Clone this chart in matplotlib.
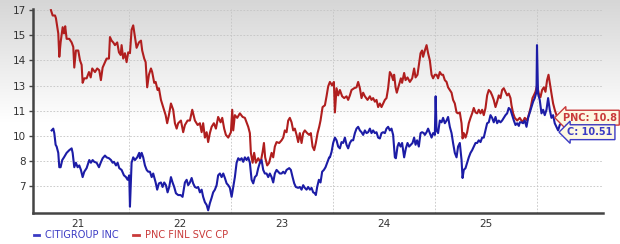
"""Citigroup vs PNC ratio history, redrawn from the reference screenshot."""

import matplotlib
matplotlib.use("Agg")
import matplotlib.pyplot as plt
import numpy as np

# x = decimal year
CITI_T = [
    2020.742, 2020.758, 2020.768, 2020.781, 2020.791, 2020.807, 2020.817, 2020.830, 2020.846, 2020.863,
    2020.889, 2020.915, 2020.938, 2020.948, 2020.964, 2020.980, 2020.997, 2021.013, 2021.029, 2021.046,
    2021.062, 2021.085, 2021.111, 2021.127, 2021.144, 2021.160, 2021.183, 2021.206, 2021.223, 2021.242,
    2021.265, 2021.281, 2021.304, 2021.324, 2021.340, 2021.353, 2021.373, 2021.389, 2021.405, 2021.428,
    2021.451, 2021.471, 2021.487, 2021.503, 2021.510, 2021.526, 2021.542, 2021.559, 2021.581, 2021.601,
    2021.608, 2021.625, 2021.640, 2021.657, 2021.674, 2021.689, 2021.706, 2021.723, 2021.738, 2021.762,
    2021.777, 2021.794, 2021.814, 2021.830, 2021.846, 2021.863, 2021.879, 2021.895, 2021.912, 2021.928,
    2021.944, 2021.961, 2021.983, 2022.007, 2022.026, 2022.049, 2022.066, 2022.081, 2022.098, 2022.115,
    2022.130, 2022.147, 2022.164, 2022.179, 2022.196, 2022.213, 2022.228, 2022.245, 2022.262, 2022.277,
    2022.294, 2022.311, 2022.326, 2022.343, 2022.360, 2022.375, 2022.392, 2022.409, 2022.425, 2022.441,
    2022.458, 2022.474, 2022.490, 2022.507, 2022.523, 2022.539, 2022.556, 2022.572, 2022.588, 2022.605,
    2022.621, 2022.637, 2022.654, 2022.670, 2022.686, 2022.703, 2022.719, 2022.735, 2022.752, 2022.768,
    2022.784, 2022.801, 2022.817, 2022.833, 2022.850, 2022.866, 2022.882, 2022.899, 2022.915, 2022.931,
    2022.948, 2022.964, 2022.980, 2022.997, 2023.013, 2023.029, 2023.046, 2023.072, 2023.088, 2023.105,
    2023.121, 2023.137, 2023.160, 2023.176, 2023.193, 2023.209, 2023.225, 2023.242, 2023.258, 2023.275,
    2023.291, 2023.307, 2023.324, 2023.333, 2023.346, 2023.363, 2023.379, 2023.395, 2023.412, 2023.428,
    2023.444, 2023.464, 2023.471, 2023.487, 2023.503, 2023.520, 2023.536, 2023.552, 2023.569, 2023.585,
    2023.601, 2023.618, 2023.634, 2023.650, 2023.667, 2023.683, 2023.699, 2023.716, 2023.732, 2023.748,
    2023.765, 2023.781, 2023.797, 2023.814, 2023.830, 2023.846, 2023.863, 2023.879, 2023.895, 2023.912,
    2023.928, 2023.944, 2023.961, 2023.977, 2023.993, 2024.010, 2024.026, 2024.042, 2024.059, 2024.075,
    2024.091, 2024.108, 2024.118, 2024.134, 2024.147, 2024.164, 2024.179, 2024.199, 2024.216, 2024.232,
    2024.248, 2024.265, 2024.281, 2024.297, 2024.311, 2024.326, 2024.343, 2024.360, 2024.375, 2024.392,
    2024.402, 2024.419, 2024.434, 2024.451, 2024.468, 2024.483, 2024.500, 2024.508, 2024.517, 2024.532,
    2024.549, 2024.566, 2024.581, 2024.598, 2024.615, 2024.630, 2024.647, 2024.664, 2024.679, 2024.696,
    2024.713, 2024.728, 2024.745, 2024.762, 2024.772, 2024.784, 2024.801, 2024.817, 2024.833, 2024.850,
    2024.866, 2024.882, 2024.899, 2024.915, 2024.931, 2024.948, 2024.964, 2024.980, 2024.997, 2025.013,
    2025.029, 2025.046, 2025.062, 2025.078, 2025.095, 2025.111, 2025.127, 2025.144, 2025.160, 2025.176,
    2025.193, 2025.209, 2025.225, 2025.242, 2025.258, 2025.275, 2025.291, 2025.307, 2025.324, 2025.333,
    2025.350, 2025.366, 2025.382, 2025.399, 2025.415, 2025.431, 2025.448, 2025.464, 2025.480, 2025.497,
    2025.502, 2025.512, 2025.529, 2025.546, 2025.562, 2025.578, 2025.595, 2025.611, 2025.627, 2025.644,
    2025.660, 2025.676, 2025.693, 2025.709, 2025.725, 2025.742,
]
CITI_V = [
    10.1, 10.2, 9.95, 9.3, 9.2, 8.85, 8.05, 8.05, 8.45, 8.6,
    8.85, 9.0, 9.1, 8.85, 8.05, 8.3, 8.05, 8.15, 7.9, 7.5,
    7.8, 8.0, 8.45, 8.3, 8.45, 8.35, 8.3, 8.05, 8.3, 8.55,
    8.7, 8.6, 8.55, 8.45, 8.3, 8.35, 8.15, 8.3, 8.0, 7.9,
    7.6, 7.5, 7.35, 7.6, 5.85, 8.3, 8.6, 8.45, 8.6, 8.85,
    8.55, 8.85, 8.6, 8.15, 7.9, 7.8, 7.8, 7.5, 7.7, 7.2,
    6.8, 7.15, 7.2, 6.95, 7.2, 7.05, 6.65, 6.95, 7.5, 7.2,
    6.95, 6.6, 6.5, 6.5, 6.4, 7.2, 7.35, 7.05, 7.2, 7.45,
    7.15, 6.95, 6.9, 6.95, 6.65, 6.8, 6.4, 6.1, 5.95, 5.65,
    6.05, 6.35, 6.65, 6.8, 7.05, 7.6, 7.7, 7.5, 7.7, 7.45,
    7.15, 7.05, 6.9, 6.4, 6.95, 7.5, 8.3, 8.55, 8.45, 8.55,
    8.35, 8.6, 8.45, 8.6, 8.3, 7.35, 7.15, 7.5, 7.6, 8.0,
    8.3, 8.45, 7.9, 7.7, 7.7, 7.5, 7.7, 7.5, 7.2, 7.7,
    7.9, 7.8, 7.7, 7.7, 7.8, 7.7, 7.9, 8.0, 7.9, 7.5,
    7.15, 6.95, 6.9, 6.95, 6.8, 7.05, 6.9, 6.8, 6.95, 6.8,
    6.9, 6.65, 6.6, 6.5, 6.95, 7.35, 7.2, 7.8, 7.9, 8.05,
    8.3, 8.6, 8.6, 8.9, 9.4, 9.7, 9.55, 9.2, 9.1, 9.45,
    9.4, 9.7, 9.3, 9.1, 9.4, 9.55, 9.55, 9.95, 10.2, 10.3,
    10.1, 10.0, 9.85, 10.1, 9.95, 10.0, 10.2, 9.95, 10.1, 9.95,
    10.0, 9.7, 9.65, 9.95, 10.0, 9.95, 10.2, 10.3, 10.1, 10.2,
    9.85, 8.6, 8.55, 9.2, 9.4, 9.2, 9.4, 8.6, 9.1, 9.4,
    9.2, 9.3, 9.4, 9.7, 9.3, 9.55, 9.2, 9.95, 10.0, 9.95,
    9.85, 10.0, 10.2, 9.95, 9.7, 9.95, 9.85, 12.0, 10.1, 9.95,
    10.65, 10.55, 10.8, 10.5, 10.65, 10.85, 10.3, 9.95, 9.4, 8.85,
    8.6, 9.2, 9.4, 8.45, 7.45, 7.9, 8.0, 8.3, 8.6, 8.85,
    9.0, 9.2, 9.4, 9.4, 9.55, 9.45, 9.7, 9.7, 10.1, 10.5,
    10.55, 10.95, 10.8, 10.55, 10.85, 10.5, 10.65, 10.55, 10.65, 10.8,
    10.95, 11.05, 11.35, 11.25, 10.95, 10.65, 10.4, 10.5, 10.35, 10.55,
    10.55, 10.5, 10.65, 10.3, 10.8, 11.1, 11.4, 11.7, 11.9, 12.25,
    14.85, 12.15, 11.8, 11.05, 11.25, 10.95, 11.25, 11.9, 11.25, 10.8,
    10.95, 10.5, 10.3, 10.1, 10.4, 10.51,
]

PNC_T = [
    2020.735, 2020.752, 2020.775, 2020.784, 2020.797, 2020.807, 2020.817, 2020.830, 2020.850, 2020.863,
    2020.875, 2020.889, 2020.915, 2020.938, 2020.954, 2020.964, 2020.980, 2021.003, 2021.020, 2021.036,
    2021.046, 2021.062, 2021.085, 2021.108, 2021.125, 2021.140, 2021.167, 2021.189, 2021.209, 2021.225,
    2021.242, 2021.265, 2021.281, 2021.304, 2021.314, 2021.330, 2021.346, 2021.363, 2021.385, 2021.402,
    2021.419, 2021.428, 2021.444, 2021.461, 2021.477, 2021.493, 2021.510, 2021.526, 2021.542, 2021.559,
    2021.575, 2021.598, 2021.618, 2021.630, 2021.650, 2021.664, 2021.679, 2021.696, 2021.716, 2021.728,
    2021.748, 2021.762, 2021.781, 2021.794, 2021.814, 2021.836, 2021.860, 2021.875, 2021.892, 2021.912,
    2021.934, 2021.951, 2021.968, 2021.983, 2022.010, 2022.032, 2022.049, 2022.075, 2022.098, 2022.121,
    2022.147, 2022.174, 2022.196, 2022.213, 2022.228, 2022.245, 2022.262, 2022.277, 2022.294, 2022.311,
    2022.333, 2022.353, 2022.375, 2022.399, 2022.415, 2022.434, 2022.451, 2022.474, 2022.500, 2022.513,
    2022.523, 2022.539, 2022.562, 2022.588, 2022.615, 2022.637, 2022.654, 2022.670, 2022.686, 2022.696,
    2022.713, 2022.728, 2022.745, 2022.768, 2022.791, 2022.811, 2022.824, 2022.836, 2022.856, 2022.875,
    2022.899, 2022.915, 2022.931, 2022.948, 2022.974, 2022.997, 2023.013, 2023.029, 2023.046, 2023.062,
    2023.078, 2023.095, 2023.111, 2023.127, 2023.144, 2023.160, 2023.176, 2023.193, 2023.209, 2023.225,
    2023.248, 2023.268, 2023.284, 2023.301, 2023.317, 2023.333, 2023.350, 2023.366, 2023.379, 2023.399,
    2023.422, 2023.438, 2023.454, 2023.471, 2023.493, 2023.510, 2023.520, 2023.536, 2023.552, 2023.569,
    2023.591, 2023.611, 2023.634, 2023.650, 2023.667, 2023.683, 2023.709, 2023.732, 2023.748, 2023.765,
    2023.781, 2023.797, 2023.814, 2023.840, 2023.863, 2023.879, 2023.895, 2023.912, 2023.928, 2023.944,
    2023.961, 2023.977, 2023.993, 2024.010, 2024.026, 2024.042, 2024.059, 2024.075, 2024.091, 2024.101,
    2024.115, 2024.127, 2024.147, 2024.167, 2024.179, 2024.199, 2024.213, 2024.232, 2024.255, 2024.278,
    2024.297, 2024.311, 2024.330, 2024.346, 2024.360, 2024.375, 2024.385, 2024.402, 2024.419, 2024.434,
    2024.451, 2024.468, 2024.483, 2024.500, 2024.517, 2024.532, 2024.549, 2024.566, 2024.581, 2024.598,
    2024.615, 2024.630, 2024.647, 2024.664, 2024.679, 2024.696, 2024.713, 2024.728, 2024.745, 2024.762,
    2024.772, 2024.784, 2024.801, 2024.817, 2024.833, 2024.850, 2024.866, 2024.882, 2024.899, 2024.915,
    2024.931, 2024.948, 2024.964, 2024.980, 2024.997, 2025.013, 2025.029, 2025.046, 2025.062, 2025.078,
    2025.095, 2025.111, 2025.127, 2025.144, 2025.160, 2025.176, 2025.193, 2025.209, 2025.225, 2025.242,
    2025.252, 2025.268, 2025.284, 2025.307, 2025.333, 2025.360, 2025.382, 2025.405, 2025.425, 2025.441,
    2025.458, 2025.471, 2025.487, 2025.503, 2025.520, 2025.536, 2025.552, 2025.569, 2025.585, 2025.601,
    2025.615, 2025.627, 2025.644, 2025.660, 2025.676, 2025.693, 2025.713, 2025.735,
]
PNC_V = [
    16.8, 16.5, 16.5, 16.35, 15.85, 15.5, 14.2, 15.0, 15.85, 15.5,
    15.9, 15.2, 15.2, 15.0, 14.75, 13.6, 14.55, 14.55, 14.0, 13.75,
    12.75, 13.0, 13.0, 13.35, 13.05, 13.55, 13.35, 13.55, 13.45, 12.9,
    13.6, 13.9, 14.1, 14.1, 15.3, 15.1, 15.0, 14.85, 15.0, 14.45,
    14.3, 14.85, 14.1, 14.4, 13.9, 14.45, 14.4, 15.7, 15.95, 15.3,
    14.7, 15.0, 15.1, 14.55, 14.1, 13.9, 12.5, 13.2, 13.55, 13.35,
    12.75, 12.8, 12.35, 12.45, 11.8, 11.4, 10.95, 10.5, 10.95, 11.6,
    11.25, 10.5, 10.2, 10.5, 10.65, 10.0, 10.4, 10.65, 10.65, 11.25,
    10.65, 10.4, 10.5, 10.0, 10.5, 9.7, 10.0, 9.45, 9.95, 10.3,
    10.5, 10.2, 10.85, 10.55, 10.8, 10.2, 9.85, 9.7, 10.0, 11.25,
    10.1, 10.95, 10.8, 11.05, 10.85, 10.8, 10.55, 10.3, 9.95, 8.85,
    8.3, 8.85, 8.3, 8.55, 8.3, 8.9, 9.4, 8.6, 8.15, 8.3,
    8.85, 8.6, 9.2, 9.45, 9.4, 9.55, 9.7, 10.1, 10.0, 10.65,
    10.8, 10.55, 10.1, 10.2, 9.85, 9.45, 9.95, 9.4, 9.95, 10.1,
    9.95, 9.85, 9.95, 9.2, 9.0, 9.4, 9.95, 10.3, 10.65, 11.4,
    11.5, 12.0, 12.55, 12.8, 12.6, 12.8, 11.1, 12.45, 12.05, 12.35,
    12.0, 11.9, 12.0, 11.8, 12.05, 12.35, 12.45, 12.5, 12.8, 12.45,
    11.9, 12.2, 12.0, 11.8, 12.0, 11.8, 11.9, 11.7, 11.8, 11.4,
    11.6, 11.4, 11.6, 11.8, 11.9, 12.45, 13.35, 13.2, 12.9, 13.2,
    12.5, 12.2, 12.6, 13.0, 12.75, 13.3, 12.9, 13.05, 12.8, 13.0,
    13.55, 13.05, 13.2, 13.85, 14.4, 14.55, 14.2, 14.55, 14.85, 14.4,
    14.0, 13.2, 13.0, 13.2, 13.2, 13.0, 13.35, 13.2, 13.2, 12.9,
    12.8, 12.5, 12.35, 12.2, 11.8, 11.6, 11.1, 11.05, 11.1, 10.5,
    9.65, 9.95, 9.7, 10.0, 10.5, 10.8, 11.05, 11.35, 11.1, 11.05,
    11.25, 11.05, 11.25, 10.95, 11.35, 12.05, 12.35, 12.25, 12.05, 11.8,
    11.4, 11.7, 12.05, 11.9, 12.35, 12.45, 12.25, 12.05, 12.15, 11.9,
    11.5, 11.05, 10.8, 10.65, 10.8, 10.55, 10.8, 10.65, 11.05, 11.4,
    11.9, 12.05, 12.25, 12.6, 12.15, 11.95, 12.35, 12.5, 12.25, 12.9,
    13.2, 12.75, 12.15, 11.6, 11.25, 10.95, 10.8, 10.8,
]

SERIES_NAMES = ["CITIGROUP INC", "PNC FINL SVC CP"]
END_LABELS = ["C: 10.51", "PNC: 10.8"]
YEAR_TICKS = [2021, 2022, 2023, 2024, 2025]
YEAR_LABELS = ["21", "22", "23", "24", "25"]
Y_TICKS = [7.0, 8.4, 9.8, 11.2, 12.6, 14.0, 15.4, 16.8]
Y_TICK_LABELS = ["7", "8", "10", "11", "13", "14", "15", "17"]

BLUE = "#1c1ca6"
RED = "#b01e1e"
BLUE_TXT = "#3b3bc4"
RED_TXT = "#c93a3a"


def _background(fig):
    # grey-to-white vertical fade behind the whole figure
    bg = fig.add_axes([0, 0, 1, 1], zorder=-10)
    bg.set_axis_off()
    ramp = np.clip(np.linspace(0, 1, 244) / 0.5, 0, 1)
    shade = 0.84 + 0.16 * ramp
    col = np.repeat(shade[:, None], 2, axis=1)
    img = np.dstack([col, col, col])
    bg.imshow(img, aspect="auto", extent=[0, 1, 0, 1], origin="upper")


def _end_label(ax, x, y, text, color, edge):
    ax.text(x, y, text, ha="center", va="center", fontsize=7, fontweight="bold",
            color=color, clip_on=False, zorder=6,
            bbox=dict(boxstyle="larrow,pad=0.25", facecolor="#fdf8e2",
                      edgecolor=edge, linewidth=1.0))


def main():
    fig = plt.figure(figsize=(6.2, 2.44), dpi=100)
    _background(fig)
    ax = fig.add_axes([0.0532, 0.127, 0.919, 0.836])
    ax.set_facecolor("none")

    ax.plot(PNC_T, PNC_V, color=RED, lw=1.5, zorder=3, solid_joinstyle="round")
    ax.plot(CITI_T, CITI_V, color=BLUE, lw=1.5, zorder=4, solid_joinstyle="round")

    ax.set_xlim(2020.559, 2026.147)
    ax.set_ylim(5.5, 16.86)

    ax.set_yticks(Y_TICKS)
    ax.set_yticklabels(Y_TICK_LABELS)
    ax.set_xticks(YEAR_TICKS)
    ax.set_xticklabels(YEAR_LABELS)
    ax.set_xticks([y + 0.5 for y in YEAR_TICKS], minor=True)

    ax.grid(axis="y", which="major", color="#c4c4c4", lw=0.6, ls=(0, (2, 2)))
    ax.grid(axis="x", which="minor", color="#c4c4c4", lw=0.6, ls=(0, (2, 2)))
    ax.tick_params(axis="y", length=3, width=1, color="#444444", labelsize=7.5,
                   labelcolor="#333333", pad=2)
    ax.tick_params(axis="x", which="both", length=0, labelsize=7.5,
                   labelcolor="#333333", pad=4)

    for side in ("top", "right"):
        ax.spines[side].set_visible(False)
    for side in ("left", "bottom"):
        ax.spines[side].set_color("#444444")
        ax.spines[side].set_linewidth(1.8)

    _end_label(ax, 2026.02, 10.81, END_LABELS[1], RED_TXT, RED_TXT)
    _end_label(ax, 2026.02, 10.0, END_LABELS[0], BLUE_TXT, BLUE_TXT)

    handles = [plt.Line2D([], [], color=BLUE_TXT, lw=2),
               plt.Line2D([], [], color=RED_TXT, lw=2)]
    fig.legend(handles, SERIES_NAMES, loc="center left", bbox_to_anchor=(0.04, 0.036),
               ncol=2, frameon=False, fontsize=7, handlelength=0.6, handletextpad=0.6,
               columnspacing=1.5, labelcolor=[BLUE_TXT, RED_TXT])

    fig.savefig("out.png", dpi=100)


if __name__ == "__main__":
    main()
